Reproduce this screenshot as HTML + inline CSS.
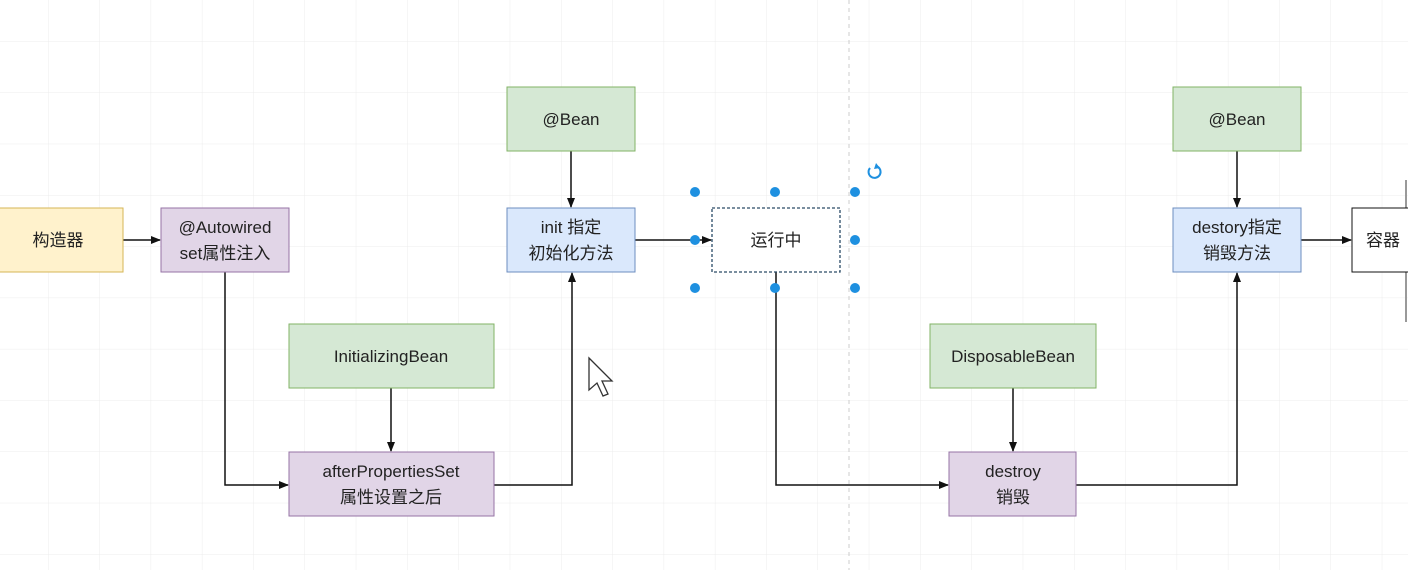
<!DOCTYPE html>
<html><head><meta charset="utf-8"><style>
html,body{margin:0;padding:0;background:#fff}
svg{display:block}
text{font-family:"Liberation Sans","Noto Sans CJK SC",sans-serif;font-size:17px;fill:#222;text-anchor:middle}
</style></head><body>
<svg width="1408" height="570" viewBox="0 0 1408 570" xmlns="http://www.w3.org/2000/svg">
<defs>
<pattern id="g" x="48" y="195" width="51.3" height="51.3" patternUnits="userSpaceOnUse">
<path d="M0 0H51.3M0 0V51.3" stroke="#ececec" stroke-width="1" fill="none"/>
</pattern>
<marker id="a" markerWidth="10" markerHeight="10" refX="9" refY="5" orient="auto" markerUnits="userSpaceOnUse">
<path d="M0 1L10 5L0 9Z" fill="#111"/>
</marker>
</defs>
<rect width="1408" height="570" fill="url(#g)"/>
<line x1="849" y1="0" x2="849" y2="570" stroke="#ccc" stroke-dasharray="4 4"/>
<line x1="1406" y1="180" x2="1406" y2="322" stroke="#999" stroke-width="2"/>

<g stroke="#111" stroke-width="1.5" fill="none">
<path d="M123 240H160" marker-end="url(#a)"/>
<path d="M225 272V485H288" marker-end="url(#a)"/>
<path d="M391 388V451" marker-end="url(#a)"/>
<path d="M494 485H572V273" marker-end="url(#a)"/>
<path d="M571 151V207" marker-end="url(#a)"/>
<path d="M635 240H711" marker-end="url(#a)"/>
<path d="M776 272V485H948" marker-end="url(#a)"/>
<path d="M1013 388V451" marker-end="url(#a)"/>
<path d="M1076 485H1237V273" marker-end="url(#a)"/>
<path d="M1237 151V207" marker-end="url(#a)"/>
<path d="M1301 240H1351" marker-end="url(#a)"/>
</g>

<rect x="-2" y="208" width="125" height="64" fill="#fff2cc" stroke="#d6b656"/>
<text x="58" y="246">构造器</text>
<rect x="161" y="208" width="128" height="64" fill="#e1d5e7" stroke="#9673a6"/>
<text x="225" y="233">@Autowired</text><text x="225" y="259">set属性注入</text>
<rect x="507" y="87" width="128" height="64" fill="#d5e8d4" stroke="#82b366"/>
<text x="571" y="125">@Bean</text>
<rect x="507" y="208" width="128" height="64" fill="#dae8fc" stroke="#6c8ebf"/>
<text x="571" y="233">init 指定</text><text x="571" y="259">初始化方法</text>
<rect x="712" y="208" width="128" height="64" fill="#fff" stroke="#2a4a66" stroke-dasharray="3 2" stroke-width="1.3"/>
<text x="776" y="246">运行中</text>
<rect x="289" y="324" width="205" height="64" fill="#d5e8d4" stroke="#82b366"/>
<text x="391" y="362">InitializingBean</text>
<rect x="289" y="452" width="205" height="64" fill="#e1d5e7" stroke="#9673a6"/>
<text x="391" y="477">afterPropertiesSet</text><text x="391" y="503">属性设置之后</text>
<rect x="930" y="324" width="166" height="64" fill="#d5e8d4" stroke="#82b366"/>
<text x="1013" y="362">DisposableBean</text>
<rect x="949" y="452" width="127" height="64" fill="#e1d5e7" stroke="#9673a6"/>
<text x="1013" y="477">destroy</text><text x="1013" y="503">销毁</text>
<rect x="1173" y="87" width="128" height="64" fill="#d5e8d4" stroke="#82b366"/>
<text x="1237" y="125">@Bean</text>
<rect x="1173" y="208" width="128" height="64" fill="#dae8fc" stroke="#6c8ebf"/>
<text x="1237" y="233">destory指定</text><text x="1237" y="259">销毁方法</text>
<rect x="1352" y="208" width="70" height="64" fill="#fff" stroke="#111"/>
<text x="1383" y="246">容器</text>

<g fill="#1e90e0">
<circle cx="695" cy="192" r="5"/><circle cx="775" cy="192" r="5"/><circle cx="855" cy="192" r="5"/>
<circle cx="695" cy="240" r="5"/><circle cx="855" cy="240" r="5"/>
<circle cx="695" cy="288" r="5"/><circle cx="775" cy="288" r="5"/><circle cx="855" cy="288" r="5"/>
</g>
<path d="M870 168A6 6 0 1 0 878 167" stroke="#1e90e0" stroke-width="2" fill="none"/>
<path d="M876 163L880 168L874 169Z" fill="#1e90e0"/>
<path d="M589 358V390L597 383L603 396L608 394L602 381L612 381Z" fill="#fff" stroke="#333" stroke-width="1.3"/>
</svg>
</body></html>
